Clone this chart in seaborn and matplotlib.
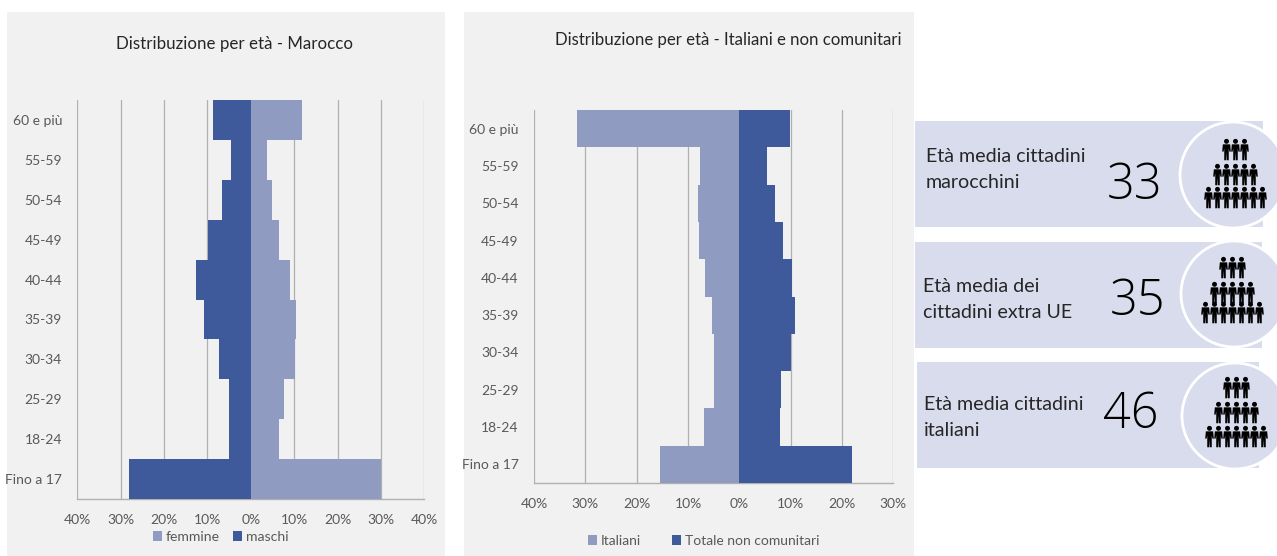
import matplotlib
matplotlib.use("Agg")
import matplotlib.pyplot as plt
import pandas as pd
import seaborn as sns
from matplotlib.patches import Rectangle, Circle
from matplotlib.path import Path

W, H = 1277, 556

sns.set_theme(style="white")
plt.rcParams["font.family"] = ["Lato", "DejaVu Sans"]

age_groups = ["60 e più", "55-59", "50-54", "45-49", "40-44", "35-39", "30-34", "25-29", "18-24", "Fino a 17"]

femmine = [11.8, 3.7, 4.8, 6.6, 9.1, 10.5, 10.2, 7.6, 6.5, 30.0]
maschi = [8.8, 4.5, 6.7, 9.8, 12.6, 10.9, 7.4, 5.0, 5.0, 28.0]
italiani = [31.7, 7.7, 8.1, 7.9, 6.6, 5.4, 5.0, 5.0, 6.8, 15.4]
non_comunitari = [9.8, 5.3, 7.0, 8.6, 10.3, 10.8, 10.1, 8.2, 7.9, 22.0]

ticks_marocco = [-40, -30, -20, -10, 0, 10, 20, 30, 40]
ticks_italiani = [-40, -30, -20, -10, 0, 10, 20, 30]

box_lines = [["Età media cittadini", "marocchini"], ["Età media dei", "cittadini extra UE"], ["Età media cittadini", "italiani"]]
box_ages = ["33", "35", "46"]
row_counts = [3, 5, 7]

DARK = "#3f5a9b"
LIGHT = "#8f9bc0"
PANEL = "#f1f1f1"
BOX = "#d9dcec"
GRID = "#b0b0b0"
TICK = "#595959"
TEXT = "#262626"

series_colors = {"maschi": DARK, "femmine": LIGHT, "Italiani": LIGHT, "Totale non comunitari": DARK}


def axes_from_px(left, top, right, bottom):
    return fig.add_axes([left / W, 1 - bottom / H, (right - left) / W, (bottom - top) / H])


def pyramid(ax, left_name, left_vals, right_name, right_vals, ticks):
    df_left = pd.DataFrame({"age": age_groups, "value": [-v for v in left_vals]})
    df_right = pd.DataFrame({"age": age_groups, "value": right_vals})
    sns.barplot(data=df_left, y="age", x="value", color=series_colors[left_name], width=1, saturation=1,
                linewidth=0, ax=ax, zorder=3, label=left_name)
    sns.barplot(data=df_right, y="age", x="value", color=series_colors[right_name], width=1, saturation=1,
                linewidth=0, ax=ax, zorder=3, label=right_name)
    ax.set_facecolor("none")
    ax.set_xlim(ticks[0], ticks[-1])
    ax.set_xticks(ticks)
    ax.set_xticklabels([f"{abs(t)}%" for t in ticks], color=TICK, fontsize=10)
    ax.tick_params(axis="y", labelsize=10, labelcolor=TICK, length=0, pad=11)
    ax.tick_params(axis="x", length=0, pad=11)
    ax.set_xlabel("")
    ax.set_ylabel("")
    ax.grid(axis="x", color=GRID, linewidth=0.9, zorder=0)
    ax.set_axisbelow(True)
    for side in ["top", "right", "left"]:
        ax.spines[side].set_visible(False)
    ax.spines["bottom"].set_color(GRID)
    ax.spines["bottom"].set_linewidth(1)


fig = plt.figure(figsize=(W / 100, H / 100), dpi=100, facecolor="white")

# background layer in pixel coordinates
bg = fig.add_axes([0, 0, 1, 1])
bg.set_xlim(0, W)
bg.set_ylim(H, 0)
bg.axis("off")
bg.add_patch(Rectangle((7, 12), 438, 544, color=PANEL, lw=0))
bg.add_patch(Rectangle((464, 12), 450, 544, color=PANEL, lw=0))
bg.text(235, 44, "Distribuzione per età - Marocco", ha="center", va="center", fontsize=12.2, color=TEXT)
bg.text(728, 40, "Distribuzione per età - Italiani e non comunitari", ha="center", va="center", fontsize=12.1, color=TEXT)

ax1 = axes_from_px(77.3, 100, 424.3, 499)
pyramid(ax1, "maschi", maschi, "femmine", femmine, ticks_marocco)
handles, labels = ax1.get_legend_handles_labels()
ax1.legend(handles[::-1], labels[::-1], ncol=2, loc="center", bbox_to_anchor=(220.5 / W, 1 - 537 / H),
           bbox_transform=fig.transFigure, frameon=False, fontsize=10.1, labelcolor=TICK,
           handlelength=0.65, handleheight=0.65, handletextpad=0.3, columnspacing=0.9)

ax2 = axes_from_px(534, 110, 893.3, 483)
pyramid(ax2, "Italiani", italiani, "Totale non comunitari", non_comunitari, ticks_italiani)
handles, labels = ax2.get_legend_handles_labels()
ax2.legend(handles, labels, ncol=2, loc="center", bbox_to_anchor=(703.5 / W, 1 - 541 / H),
           bbox_transform=fig.transFigure, frameon=False, fontsize=10, labelcolor=TICK,
           handlelength=0.65, handleheight=0.65, handletextpad=0.3, columnspacing=2.2)

# little person used for the icon pyramids
head = Path.circle((0, 0.76), 0.23)
body = Path([(-0.34, 0.48), (0.34, 0.48), (0.40, -0.2), (0.27, -0.2), (0.21, 0.1), (0.21, -1.0), (0.03, -1.0),
             (0.0, -0.25), (-0.03, -1.0), (-0.21, -1.0), (-0.21, 0.1), (-0.27, -0.2), (-0.40, -0.2), (-0.34, 0.48)], closed=True)
person = Path.make_compound_path(head, body)

# (box left, top, right), text x and y, number x and y, circle centre, icon centre x and row y
boxes = [
    (914.7, 121, 1263, 926, 157, 1135, 186, 1233, 175, 1235, [149, 174, 197]),
    (915, 242, 1262, 923, 287, 1138, 302, 1234, 294, 1232, [267, 292, 312]),
    (916.7, 362, 1259, 924, 405, 1131, 415, 1235, 416, 1236, [387, 412, 436]),
]
over = fig.add_axes([0, 0, 1, 1], facecolor="none")
over.set_xlim(0, W)
over.set_ylim(H, 0)
over.axis("off")
for (bl, bt, br, tx, ty, nx, ny, cx, cy, ix, rows), lines, age in zip(boxes, box_lines, box_ages):
    over.add_patch(Rectangle((bl, bt), br - bl, 106, color=BOX, lw=0))
    over.add_patch(Circle((cx, cy), 53, facecolor=BOX, edgecolor="white", linewidth=2))
    over.text(tx, ty, lines[0], fontsize=14.1, color=TEXT, va="center")
    over.text(tx, ty + 25, lines[1], fontsize=14.1, color=TEXT, va="center")
    over.text(nx, ny, age, fontsize=35, color="black", ha="center", va="center", fontweight="light", family="Open Sans")
    for n, ry in zip(row_counts, rows):
        xs = [ix + 9 * (i - (n - 1) / 2) for i in range(n)]
        over.scatter(xs, [ry] * n, marker=person, s=240, color="black", linewidths=0, zorder=5)

fig.savefig("out.png", dpi=100)
